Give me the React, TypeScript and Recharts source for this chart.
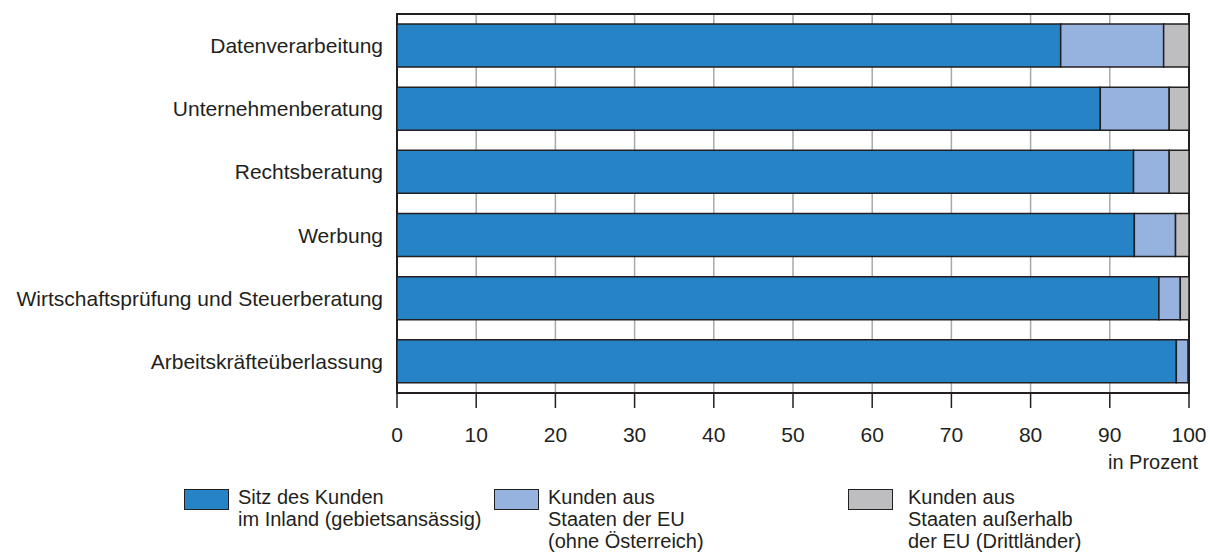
import React from 'react';
import { BarChart, Bar, XAxis, YAxis, CartesianGrid, ReferenceArea } from 'recharts';

const categories = [
  'Datenverarbeitung',
  'Unternehmenberatung',
  'Rechtsberatung',
  'Werbung',
  'Wirtschaftsprüfung und Steuerberatung',
  'Arbeitskräfteüberlassung',
];
const inland = [83.8, 88.8, 93.0, 93.1, 96.2, 98.4];
const eu = [13.0, 8.7, 4.5, 5.2, 2.7, 1.5];
const third = [3.2, 2.5, 2.5, 1.7, 1.1, 0.1];
const xTicks = [0, 10, 20, 30, 40, 50, 60, 70, 80, 90, 100];

const seriesLabels = [
  { key: 'inland', lines: ['Sitz des Kunden', 'im Inland (gebietsansässig)'], color: '#2683c6', left: 184, textLeft: 238 },
  { key: 'eu', lines: ['Kunden aus', 'Staaten der EU', '(ohne Österreich)'], color: '#95b3de', left: 494, textLeft: 548 },
  { key: 'third', lines: ['Kunden aus', 'Staaten außerhalb', 'der EU (Drittländer)'], color: '#bebec0', left: 848, textLeft: 908 },
];

const data = categories.map((name, i) => ({ name, inland: inland[i], eu: eu[i], third: third[i] }));

const FONT = '"Liberation Sans", Arial, Helvetica, sans-serif';
const DARK = '#231f20';

function LegendBox() {
  return (
    <div style={{ position: 'absolute', left: 0, top: 486, width: 1210, height: 70, fontFamily: FONT, fontSize: 20, color: DARK, lineHeight: '22px' }}>
      {seriesLabels.map((s) => (
        <React.Fragment key={s.key}>
          <div style={{ position: 'absolute', left: s.left, top: 3, width: 45, height: 21, background: s.color, border: `1.5px solid ${DARK}`, boxSizing: 'border-box' }} />
          <div style={{ position: 'absolute', left: s.textLeft, top: 0, textAlign: 'left', whiteSpace: 'nowrap' }}>
            {s.lines.map((l) => <div key={l}>{l}</div>)}
          </div>
        </React.Fragment>
      ))}
    </div>
  );
}

export default function App() {
  return (
    <div style={{ position: 'absolute', left: 0, top: 0, width: 1210, height: 556, background: '#fff', fontFamily: FONT, overflow: 'hidden' }}>
      <BarChart
        width={1210}
        height={556}
        data={data}
        layout="vertical"
        margin={{ top: 14, right: 21, bottom: 103, left: 0 }}
        barCategoryGap={20}
      >
        <CartesianGrid horizontal={false} vertical stroke="#a7a9ac" strokeWidth={1.5} />
        <XAxis
          type="number"
          domain={[0, 100]}
          ticks={xTicks}
          height={60}
          tickSize={15}
          tickMargin={19}
          tick={{ fontSize: 21, fill: DARK, fontFamily: FONT }}
          stroke={DARK}
          axisLine={{ stroke: DARK, strokeWidth: 2 }}
          tickLine={{ stroke: DARK, strokeWidth: 1.5 }}
        />
        <YAxis
          type="category"
          dataKey="name"
          width={397}
          axisLine={false}
          tickLine={false}
          tickMargin={8}
          tick={{ fontSize: 21, fill: DARK, fontFamily: FONT }}
        />
        <ReferenceArea x1={0} x2={100} fill="none" stroke={DARK} strokeWidth={2} ifOverflow="visible" />
        <Bar dataKey="inland" stackId="a" fill="#2683c6" stroke={DARK} strokeWidth={1.5} barSize={43} isAnimationActive={false} />
        <Bar dataKey="eu" stackId="a" fill="#95b3de" stroke={DARK} strokeWidth={1.5} barSize={43} isAnimationActive={false} />
        <Bar dataKey="third" stackId="a" fill="#bebec0" stroke={DARK} strokeWidth={1.5} barSize={43} isAnimationActive={false} />
      </BarChart>
      <div style={{ position: 'absolute', right: 12, top: 450, fontSize: 20, lineHeight: '24px', color: DARK, fontFamily: FONT }}>in Prozent</div>
      <LegendBox />
    </div>
  );
}
